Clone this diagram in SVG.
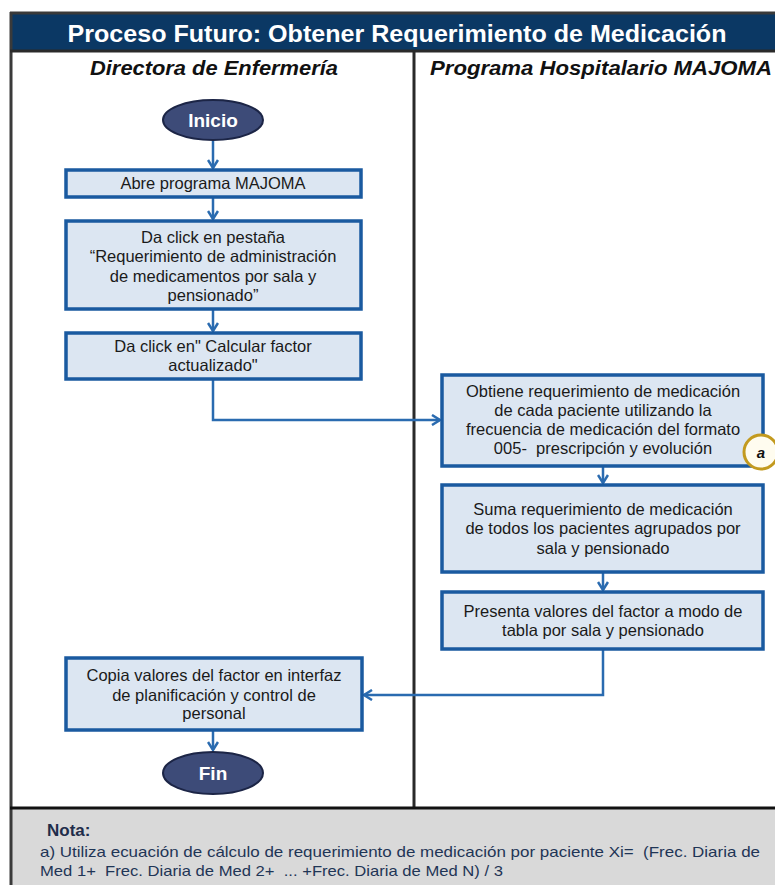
<svg xmlns="http://www.w3.org/2000/svg" width="775" height="885" viewBox="0 0 775 885">
<defs>
<style>
.box{fill:#dce6f2;stroke:#1a5aa0;stroke-width:3.5}
.term{fill:#3d4b78;stroke:#1c2546;stroke-width:2}
.t{font-family:"Liberation Sans",Arial,sans-serif;font-size:16.5px;fill:#1a1a1a;text-anchor:middle}
.tt{font-family:"Liberation Sans",Arial,sans-serif;font-size:19px;font-weight:bold;fill:#ffffff;text-anchor:middle}
.title{font-family:"Liberation Sans",Arial,sans-serif;font-size:24px;font-weight:bold;fill:#ffffff;text-anchor:middle}
.hd{font-family:"Liberation Sans",Arial,sans-serif;font-size:20px;font-weight:bold;font-style:italic;fill:#111;text-anchor:middle}
.con{fill:none;stroke:#2a6bb0;stroke-width:2.5}
.note{font-family:"Liberation Sans",Arial,sans-serif;font-size:15px;fill:#1f3556}
</style>
<marker id="ar" viewBox="0 0 12 12" refX="10" refY="6" markerWidth="12" markerHeight="12" markerUnits="userSpaceOnUse" orient="auto">
<path d="M2,1 L10,6 L2,11" fill="none" stroke="#2a6bb0" stroke-width="2.5"/>
</marker>
</defs>
<rect x="0" y="0" width="775" height="885" fill="#ffffff"/>
<!-- frame -->
<rect x="10" y="808" width="765" height="77" fill="#d9d9d9"/>
<rect x="11" y="14" width="764" height="37" fill="#0b3864"/>
<line x1="10" y1="13" x2="775" y2="13" stroke="#3a3a3a" stroke-width="3"/>
<line x1="11" y1="12" x2="11" y2="885" stroke="#3a3a3a" stroke-width="3"/>
<line x1="10" y1="51" x2="775" y2="51" stroke="#2a2a2a" stroke-width="3"/>
<line x1="414" y1="51" x2="414" y2="808" stroke="#2a2a2a" stroke-width="3"/>
<line x1="10" y1="808" x2="775" y2="808" stroke="#111" stroke-width="3"/>
<text class="title" x="397" y="42" textLength="659" lengthAdjust="spacingAndGlyphs">Proceso Futuro: Obtener Requerimiento de Medicación</text>
<text class="hd" x="214" y="75" textLength="248" lengthAdjust="spacingAndGlyphs">Directora de Enfermería</text>
<text class="hd" x="601" y="75" textLength="342" lengthAdjust="spacingAndGlyphs">Programa Hospitalario MAJOMA</text>

<g id="connectors">
<line class="con" x1="213" y1="141" x2="213" y2="168" marker-end="url(#ar)"/>
<line class="con" x1="213" y1="197" x2="213" y2="219" marker-end="url(#ar)"/>
<line class="con" x1="213" y1="309" x2="213" y2="331" marker-end="url(#ar)"/>
<polyline class="con" points="213,379 213,420 440,420" marker-end="url(#ar)"/>
<line class="con" x1="603" y1="466" x2="603" y2="483" marker-end="url(#ar)"/>
<line class="con" x1="603" y1="572" x2="603" y2="590" marker-end="url(#ar)"/>
<polyline class="con" points="603,649 603,695 364,695" marker-end="url(#ar)"/>
<line class="con" x1="213" y1="730" x2="213" y2="750" marker-end="url(#ar)"/>
</g>

<g id="inicio">
<ellipse class="term" cx="213" cy="120" rx="50" ry="20"/>
<text class="tt" x="213" y="127">Inicio</text>
</g>
<g id="abre">
<rect class="box" x="66" y="170" width="295" height="27"/>
<text class="t" x="213" y="189">Abre programa MAJOMA</text>
</g>
<g id="pestana">
<rect class="box" x="66" y="221" width="295" height="88"/>
<text class="t" x="213" y="243">Da click en pestaña</text>
<text class="t" x="213" y="262">“Requerimiento de administración</text>
<text class="t" x="213" y="282">de medicamentos por sala y</text>
<text class="t" x="213" y="301">pensionado”</text>
</g>
<g id="calcular">
<rect class="box" x="66" y="333" width="295" height="46"/>
<text class="t" x="213" y="352">Da click en" Calcular factor</text>
<text class="t" x="213" y="371">actualizado"</text>
</g>
<g id="obtiene">
<rect class="box" x="442" y="375" width="321" height="91"/>
<text class="t" x="603" y="397">Obtiene requerimiento de medicación</text>
<text class="t" x="603" y="416">de cada paciente utilizando la</text>
<text class="t" x="603" y="435">frecuencia de medicación del formato</text>
<text class="t" x="603" y="454" xml:space="preserve">005-  prescripción y evolución</text>
</g>
<g id="nota-a">
<circle cx="761" cy="452" r="17" fill="#fffcef" stroke="#c39a1f" stroke-width="3"/>
<text x="761" y="458" font-family="'Liberation Sans',Arial,sans-serif" font-size="15" font-weight="bold" font-style="italic" fill="#111" text-anchor="middle">a</text>
</g>
<g id="suma">
<rect class="box" x="442" y="485" width="321" height="87"/>
<text class="t" x="603" y="515">Suma requerimiento de medicación</text>
<text class="t" x="603" y="534">de todos los pacientes agrupados por</text>
<text class="t" x="603" y="554">sala y pensionado</text>
</g>
<g id="presenta">
<rect class="box" x="442" y="592" width="321" height="57"/>
<text class="t" x="603" y="617">Presenta valores del factor a modo de</text>
<text class="t" x="603" y="636">tabla por sala y pensionado</text>
</g>
<g id="copia">
<rect class="box" x="66" y="658" width="296" height="72"/>
<text class="t" x="214" y="681">Copia valores del factor en interfaz</text>
<text class="t" x="214" y="701">de planificación y control de</text>
<text class="t" x="214" y="719">personal</text>
</g>
<g id="fin">
<ellipse class="term" cx="213" cy="773" rx="50" ry="21"/>
<text class="tt" x="213" y="780">Fin</text>
</g>

<g id="nota">
<text x="47" y="836" font-family="'Liberation Sans',Arial,sans-serif" font-size="17" font-weight="bold" fill="#1f2d4a">Nota:</text>
<text class="note" x="40" y="857" textLength="720" lengthAdjust="spacingAndGlyphs" xml:space="preserve">a) Utiliza ecuación de cálculo de requerimiento de medicación por paciente Xi=  (Frec. Diaria de</text>
<text class="note" x="40" y="876" textLength="463" lengthAdjust="spacingAndGlyphs" xml:space="preserve">Med 1+  Frec. Diaria de Med 2+  ... +Frec. Diaria de Med N) / 3</text>
</g>
</svg>
